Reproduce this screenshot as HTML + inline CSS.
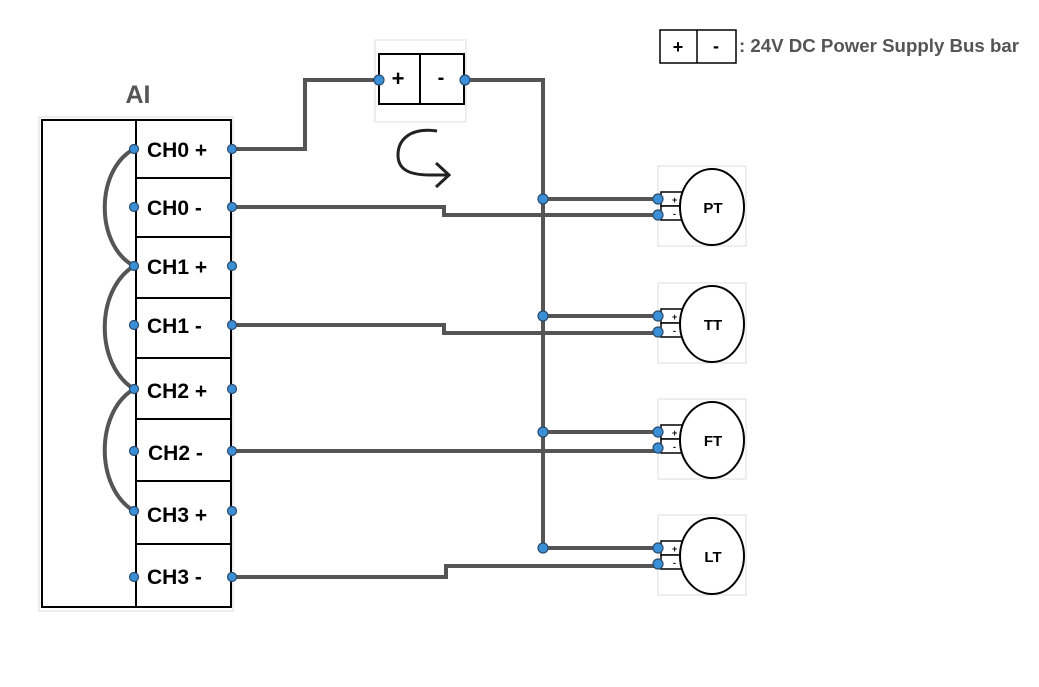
<!DOCTYPE html>
<html><head><style>body{margin:0;background:#fff}svg{display:block}</style></head><body>
<svg width="1039" height="687" viewBox="0 0 1039 687" xmlns="http://www.w3.org/2000/svg" font-family="Liberation Sans, sans-serif">
<rect x="0" y="0" width="1039" height="687" fill="#fff"/>
<!-- legend -->
<rect x="660" y="30" width="76" height="33" fill="#fff" stroke="#000" stroke-width="1.5"/>
<line x1="697" y1="30" x2="697" y2="63" stroke="#000" stroke-width="1.5"/>
<text x="678" y="53" font-size="18" font-weight="bold" text-anchor="middle">+</text>
<text x="716" y="52" font-size="18" font-weight="bold" text-anchor="middle">-</text>
<text x="739" y="52" font-size="18.5" font-weight="bold" fill="#555" textLength="280" lengthAdjust="spacingAndGlyphs">: 24V DC Power Supply Bus bar</text>
<!-- AI -->
<text x="138" y="103" font-size="25" font-weight="bold" fill="#555" text-anchor="middle">AI</text>
<rect x="39" y="117" width="194" height="494" fill="none" stroke="#ddd"/>
<rect x="42" y="120" width="189" height="487" fill="#fff" stroke="#000" stroke-width="2"/>
<line x1="136" y1="120" x2="136" y2="607" stroke="#000" stroke-width="2"/>
<g stroke="#000" stroke-width="2">
<line x1="136" y1="178" x2="231" y2="178"/><line x1="136" y1="237" x2="231" y2="237"/>
<line x1="136" y1="298" x2="231" y2="298"/><line x1="136" y1="358" x2="231" y2="358"/>
<line x1="136" y1="419" x2="231" y2="419"/><line x1="136" y1="481" x2="231" y2="481"/>
<line x1="136" y1="544" x2="231" y2="544"/></g>
<g font-size="21" font-weight="bold">
<text x="147" y="157">CH0 +</text><text x="147" y="215">CH0 -</text>
<text x="147" y="274">CH1 +</text><text x="147" y="333">CH1 -</text>
<text x="147" y="398">CH2 +</text><text x="148" y="460">CH2 -</text>
<text x="147" y="522">CH3 +</text><text x="147" y="584">CH3 -</text></g>
<!-- jumpers -->
<g fill="none" stroke="#555" stroke-width="4">
<path d="M134 149 C95 170 95 245 134 266"/>
<path d="M134 266 C95 290 95 365 134 389"/>
<path d="M134 389 C95 412 95 488 134 511"/>
</g>
<!-- wires -->
<g fill="none" stroke="#555" stroke-width="4">
<path d="M232 149 H305 V80 H380"/>
<path d="M465 80 H543 V548"/>
<path d="M543 199 H658"/><path d="M543 316 H658"/><path d="M543 432 H658"/><path d="M543 548 H658"/>
<path d="M232 207 H444 V215 H658"/>
<path d="M232 325 H444 V333 H658"/>
<path d="M232 451 H658"/>
<path d="M232 577 H446 V566 H658"/>
</g>
<!-- bus bar -->
<rect x="375" y="40" width="91" height="82" fill="none" stroke="#ddd"/>
<rect x="379" y="54" width="85" height="50" fill="#fff" stroke="#000" stroke-width="2"/>
<line x1="420" y1="54" x2="420" y2="104" stroke="#000" stroke-width="2"/>
<text x="398" y="86" font-size="22" font-weight="bold" text-anchor="middle">+</text>
<text x="441" y="84" font-size="20" font-weight="bold" text-anchor="middle">-</text>
<path d="M437 131 C410 127 398 140 398 155 C398 170 410 175 430 175 H448 M436 163 L449 175 L436 187" fill="none" stroke="#222" stroke-width="3"/>
<!-- devices -->
<g>
<g transform="translate(0,0)">
<rect x="658" y="166" width="88" height="80" fill="#fff" stroke="#ddd"/>
<rect x="661" y="192" width="24" height="14" fill="#fff" stroke="#000" stroke-width="1.5"/>
<rect x="661" y="206" width="24" height="14" fill="#fff" stroke="#000" stroke-width="1.5"/>
<ellipse cx="712" cy="207" rx="32" ry="38" fill="#fff" stroke="#000" stroke-width="2"/>
<text x="672" y="203" font-size="9" font-weight="bold">+</text><text x="673" y="217" font-size="9" font-weight="bold">-</text>
<text x="713" y="213" font-size="15" font-weight="bold" text-anchor="middle">PT</text>
</g>
<g transform="translate(0,117)">
<rect x="658" y="166" width="88" height="80" fill="#fff" stroke="#ddd"/>
<rect x="661" y="192" width="24" height="14" fill="#fff" stroke="#000" stroke-width="1.5"/>
<rect x="661" y="206" width="24" height="14" fill="#fff" stroke="#000" stroke-width="1.5"/>
<ellipse cx="712" cy="207" rx="32" ry="38" fill="#fff" stroke="#000" stroke-width="2"/>
<text x="672" y="203" font-size="9" font-weight="bold">+</text><text x="673" y="217" font-size="9" font-weight="bold">-</text>
<text x="713" y="213" font-size="15" font-weight="bold" text-anchor="middle">TT</text>
</g>
<g transform="translate(0,233)">
<rect x="658" y="166" width="88" height="80" fill="#fff" stroke="#ddd"/>
<rect x="661" y="192" width="24" height="14" fill="#fff" stroke="#000" stroke-width="1.5"/>
<rect x="661" y="206" width="24" height="14" fill="#fff" stroke="#000" stroke-width="1.5"/>
<ellipse cx="712" cy="207" rx="32" ry="38" fill="#fff" stroke="#000" stroke-width="2"/>
<text x="672" y="203" font-size="9" font-weight="bold">+</text><text x="673" y="217" font-size="9" font-weight="bold">-</text>
<text x="713" y="213" font-size="15" font-weight="bold" text-anchor="middle">FT</text>
</g>
<g transform="translate(0,349)">
<rect x="658" y="166" width="88" height="80" fill="#fff" stroke="#ddd"/>
<rect x="661" y="192" width="24" height="14" fill="#fff" stroke="#000" stroke-width="1.5"/>
<rect x="661" y="206" width="24" height="14" fill="#fff" stroke="#000" stroke-width="1.5"/>
<ellipse cx="712" cy="207" rx="32" ry="38" fill="#fff" stroke="#000" stroke-width="2"/>
<text x="672" y="203" font-size="9" font-weight="bold">+</text><text x="673" y="217" font-size="9" font-weight="bold">-</text>
<text x="713" y="213" font-size="15" font-weight="bold" text-anchor="middle">LT</text>
</g>
</g>
<!-- dots -->
<g fill="#3a8fd6" stroke="#2b4c6e" stroke-width="1.2">
<circle cx="134" cy="149" r="4.5"/><circle cx="232" cy="149" r="4.5"/>
<circle cx="134" cy="207" r="4.5"/><circle cx="232" cy="207" r="4.5"/>
<circle cx="134" cy="266" r="4.5"/><circle cx="232" cy="266" r="4.5"/>
<circle cx="134" cy="325" r="4.5"/><circle cx="232" cy="325" r="4.5"/>
<circle cx="134" cy="389" r="4.5"/><circle cx="232" cy="389" r="4.5"/>
<circle cx="134" cy="451" r="4.5"/><circle cx="232" cy="451" r="4.5"/>
<circle cx="134" cy="511" r="4.5"/><circle cx="232" cy="511" r="4.5"/>
<circle cx="134" cy="577" r="4.5"/><circle cx="232" cy="577" r="4.5"/>
<circle cx="379" cy="80" r="5"/><circle cx="465" cy="80" r="5"/>
<circle cx="543" cy="199" r="5"/><circle cx="543" cy="316" r="5"/><circle cx="543" cy="432" r="5"/><circle cx="543" cy="548" r="5"/>
<circle cx="658" cy="199" r="5"/><circle cx="658" cy="215" r="5"/>
<circle cx="658" cy="316" r="5"/><circle cx="658" cy="332" r="5"/>
<circle cx="658" cy="432" r="5"/><circle cx="658" cy="448" r="5"/>
<circle cx="658" cy="548" r="5"/><circle cx="658" cy="564" r="5"/>
</g>
</svg>
</body></html>
